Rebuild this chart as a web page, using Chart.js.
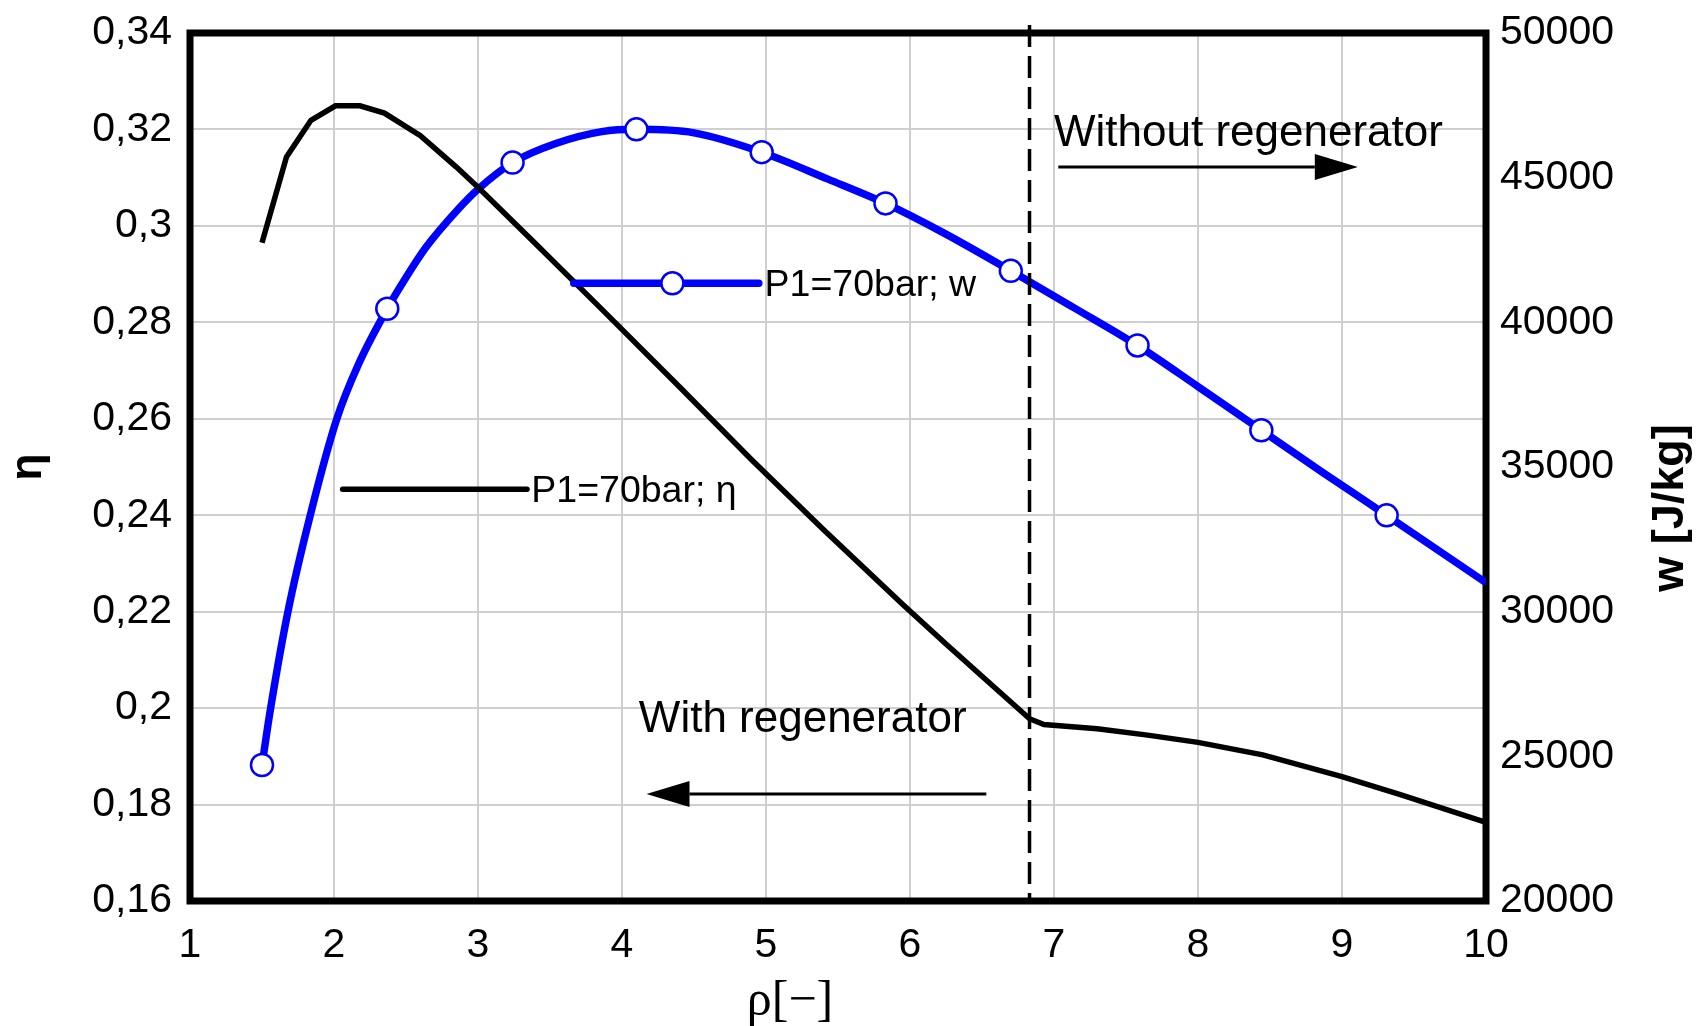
<!DOCTYPE html>
<html>
<head>
<meta charset="utf-8">
<script src="https://cdn.jsdelivr.net/npm/chart.js@4/dist/chart.umd.min.js"></script>
<style>
    html, body { margin: 0; padding: 0; background: #fff; }
</style>
</head>
<body>
<canvas id="chart" width="1707" height="1026"></canvas>
<script>
// pressure ratio (x) and cycle efficiency (left axis)
const etaRho = [1.5, 1.67, 1.84, 2.01, 2.18, 2.35, 2.6, 2.85, 3.0, 3.4, 3.85, 4.4, 4.9, 5.4, 5.95, 6.25, 6.5, 6.83, 6.93, 7.3, 7.65, 8.0, 8.45, 9.0, 9.4, 10]
const etaValues = [0.2965, 0.3143, 0.3219, 0.3249, 0.3249, 0.3234, 0.3187, 0.3122, 0.3080, 0.2963, 0.2830, 0.2666, 0.2515, 0.2370, 0.2215, 0.2133, 0.2066, 0.1978, 0.1966, 0.1957, 0.1944, 0.1929, 0.1903, 0.1858, 0.1821, 0.1763]

// specific work (right axis)
const wRho = [1.5, 1.56, 1.68, 1.835, 2.02, 2.17, 2.37, 2.5, 2.64, 2.87, 3.0, 3.24, 3.54, 3.86, 4.1, 4.5, 4.97, 5.43, 5.83, 6.23, 6.7, 7.14, 7.58, 8.0, 8.44, 8.87, 9.31, 10]
const wValues = [24700, 26670, 30000, 33330, 36670, 38550, 40470, 41550, 42600, 43950, 44600, 45520, 46180, 46590, 46670, 46550, 45880, 44950, 44110, 43100, 41780, 40500, 39200, 37780, 36270, 34800, 33330, 31000]
const wMarkerRho = [1.5, 2.37, 3.24, 4.1, 4.97, 5.83, 6.7, 7.58, 8.44, 9.31]

// regenerator limit
const splitRho = 6.83

const xTicks = [1, 10, 1]          // min, max, step
const etaTicks = [0.16, 0.34, 0.02]
const wTicks = [20000, 50000, 5000]

const SANS = '"Liberation Sans", Arial, sans-serif'
const SERIF = '"Liberation Serif", "Times New Roman", serif'
const BLUE = '#0000ff'
const GRID = '#cfcfcf'

const tickFont = { family: SANS, size: 41 }

// keep the plot box where the picture has it
const fixBox = size => s => {
    if (s.isHorizontal()) s.height = size
    else s.width = size
    s.paddingTop = s.paddingBottom = s.paddingLeft = s.paddingRight = 0
}

const arrow = (ctx, x0, x1, y) => {
    const dir = Math.sign(x1 - x0)
    const head = 43
    ctx.beginPath()
    ctx.moveTo(x0, y)
    ctx.lineTo(x1 - dir * head, y)
    ctx.lineWidth = 3
    ctx.strokeStyle = '#000'
    ctx.stroke()
    ctx.beginPath()
    ctx.moveTo(x1, y)
    ctx.lineTo(x1 - dir * head, y - 13)
    ctx.lineTo(x1 - dir * head, y + 13)
    ctx.closePath()
    ctx.fillStyle = '#000'
    ctx.fill()
}

const decor = {
    id: 'decor',
    beforeDatasetsDraw: chart => {
        const { ctx, chartArea: a } = chart
        ctx.save()
        ctx.lineWidth = 7
        ctx.strokeStyle = '#000'
        ctx.strokeRect(a.left, a.top, a.right - a.left, a.bottom - a.top)
        ctx.restore()
    },
    afterDatasetsDraw: chart => {
        const { ctx, chartArea: a, scales } = chart
        const X = v => scales.x.getPixelForValue(v)
        const Y = v => scales.y.getPixelForValue(v)
        const Y2 = v => scales.y2.getPixelForValue(v)
        ctx.save()

        // dashed split line
        ctx.beginPath()
        ctx.setLineDash([22, 9])
        ctx.moveTo(X(splitRho), a.top - 8)
        ctx.lineTo(X(splitRho), a.bottom)
        ctx.lineWidth = 3.5
        ctx.strokeStyle = '#000'
        ctx.stroke()
        ctx.setLineDash([])

        // annotations
        ctx.fillStyle = '#000'
        ctx.font = `44px ${SANS}`
        ctx.textAlign = 'left'
        ctx.textBaseline = 'alphabetic'
        ctx.fillText('Without regenerator', X(7.0), Y(0.3166))
        ctx.fillText('With regenerator', X(4.117), Y(0.195))
        arrow(ctx, X(7.03), X(9.11), Y(0.3122))
        arrow(ctx, X(6.53), X(4.17), Y(0.1822))

        // in-plot legend entries
        ctx.lineCap = 'round'
        ctx.beginPath()
        ctx.moveTo(X(2.06), Y(0.2454))
        ctx.lineTo(X(3.34), Y(0.2454))
        ctx.lineWidth = 5.5
        ctx.strokeStyle = '#000'
        ctx.stroke()

        ctx.beginPath()
        ctx.moveTo(X(3.665), Y2(41350))
        ctx.lineTo(X(4.95), Y2(41350))
        ctx.lineWidth = 7.5
        ctx.strokeStyle = BLUE
        ctx.stroke()
        ctx.beginPath()
        ctx.arc(X(4.35), Y2(41350), 11, 0, Math.PI * 2)
        ctx.fillStyle = '#fff'
        ctx.fill()
        ctx.lineWidth = 2.5
        ctx.stroke()

        ctx.fillStyle = '#000'
        ctx.font = `37.5px ${SANS}`
        ctx.textBaseline = 'middle'
        ctx.fillText('P1=70bar; η', X(3.37), Y(0.2454) + 2)
        ctx.fillText('P1=70bar; w', X(4.99), Y2(41350) + 2)

        // axis titles
        ctx.textBaseline = 'alphabetic'
        ctx.textAlign = 'center'
        ctx.font = `bold 44px ${SANS}`
        ctx.save()
        ctx.translate(41, (a.top + a.bottom) / 2)
        ctx.rotate(-Math.PI / 2)
        ctx.fillText('η', 0, 0)
        ctx.restore()

        ctx.save()
        ctx.font = `bold 45px ${SANS}`
        ctx.translate(1683, 508)
        ctx.rotate(-Math.PI / 2)
        ctx.fillText('w [J/kg]', 0, 0)
        ctx.restore()

        ctx.font = `50px ${SERIF}`
        ctx.fillText('ρ[−]', 790, 1015)

        ctx.restore()
    }
}

const chart = new Chart('chart', {
    type: 'line',
    data: {
        datasets: [
            {
                label: 'P1=70bar; η',
                data: etaRho.map((r, i) => ({ x: r, y: etaValues[i] })),
                yAxisID: 'y',
                borderColor: '#000',
                borderWidth: 5.5,
                pointRadius: 0,
                tension: 0
            },
            {
                label: 'P1=70bar; w',
                data: wRho.map((r, i) => ({ x: r, y: wValues[i] })),
                yAxisID: 'y2',
                borderColor: BLUE,
                borderWidth: 7.5,
                cubicInterpolationMode: 'monotone',
                pointRadius: ctx => wMarkerRho.includes(wRho[ctx.dataIndex]) ? 11 : 0,
                pointBackgroundColor: '#fff',
                pointBorderColor: BLUE,
                pointBorderWidth: 2.5
            }
        ]
    },
    options: {
        responsive: false,
        animation: false,
        devicePixelRatio: 1,
        layout: { padding: { top: 33, left: 0, right: 0, bottom: 0 } },
        plugins: { legend: { display: false }, tooltip: { enabled: false } },
        scales: {
            x: {
                type: 'linear',
                min: xTicks[0], max: xTicks[1],
                ticks: { stepSize: xTicks[2], padding: 20, font: tickFont, color: '#000', maxRotation: 0 },
                grid: { color: GRID, lineWidth: 2, drawTicks: false },
                border: { display: false },
                afterFit: fixBox(125)
            },
            y: {
                position: 'left',
                min: etaTicks[0], max: etaTicks[1],
                ticks: {
                    stepSize: etaTicks[2], padding: 18, font: tickFont, color: '#000',
                    callback: v => String(+v.toFixed(2)).replace('.', ',')
                },
                grid: { color: GRID, lineWidth: 2, drawTicks: false },
                border: { display: false },
                afterFit: fixBox(190)
            },
            y2: {
                position: 'right',
                min: wTicks[0], max: wTicks[1],
                ticks: { stepSize: wTicks[2], padding: 14, font: tickFont, color: '#000', callback: v => String(v) },
                grid: { display: false, drawTicks: false },
                border: { display: false },
                afterFit: fixBox(221)
            }
        }
    },
    plugins: [decor]
})
</script>
</body>
</html>
